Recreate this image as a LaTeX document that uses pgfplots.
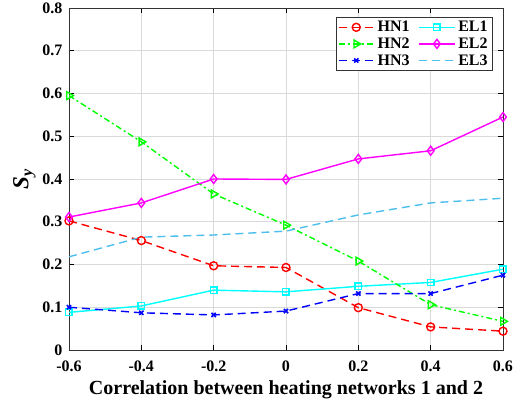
\documentclass[border=0pt]{standalone}
\usepackage{pgfplots}
\pgfplotsset{compat=1.18}
\usepackage{fontspec}
\setmainfont{Liberation Serif}
\definecolor{elthree}{rgb}{0.30,0.75,0.93}
\definecolor{hntwo}{rgb}{0,1,0}
\definecolor{elone}{rgb}{0,1,1}
\definecolor{eltwo}{rgb}{1,0,1}
\definecolor{hnone}{rgb}{1,0,0}
\definecolor{hnthree}{rgb}{0,0,1}
\begin{document}
\begin{tikzpicture}
\begin{axis}[
  scale only axis,
  width=434pt, height=342pt,
  xmin=-0.6, xmax=0.6, ymin=0, ymax=0.8,
  xtick={-0.6,-0.4,-0.2,0,0.2,0.4,0.6},
  ytick={0,0.1,0.2,0.3,0.4,0.5,0.6,0.7,0.8},
  xticklabels={-0.6,-0.4,-0.2,0,0.2,0.4,0.6},
  yticklabels={0,0.1,0.2,0.3,0.4,0.5,0.6,0.7,0.8},
  tick align=inside,
  major tick length=5pt,
  tick style={black, line width=0.6pt},
  axis line style={line width=0.9pt, black!80},
  grid=major,
  grid style={gray!30, line width=0.7pt},
  ticklabel style={font=\bfseries\fontsize{16}{16}\selectfont},
  xticklabel style={yshift=-7pt},
  yticklabel style={xshift=-3pt},
  /pgf/number format/assume math mode=true,
  xlabel={Correlation between heating networks 1 and 2},
  xlabel style={font=\bfseries\fontsize{20}{20}\selectfont, yshift=-2pt},
  ylabel={\textbf{\textit{S\textsubscript{y}}}},
  ylabel style={font=\bfseries\itshape\fontsize{23}{23}\selectfont, yshift=0pt},
  legend columns=2,
  legend style={at={(0.977,0.974)}, anchor=north east, draw=black!80, line width=0.8pt,
    font=\bfseries\fontsize{16}{16}\selectfont, inner sep=2pt, row sep=0.5pt,
    nodes={inner xsep=3pt},
    /tikz/every even column/.append style={column sep=6pt}},
  legend cell align=left,
  legend image code/.code={
    \draw[line width=1.4pt, mark repeat=2,mark phase=2] plot coordinates {(0cm,0cm) (0.62cm,0cm) (1.24cm,0cm)};
  },
]
\coordinate (bl) at (rel axis cs:0,0);
\coordinate (tr) at (rel axis cs:1,1);
\addplot[hnone, line width=1.4pt, dash pattern=on 8pt off 5pt, mark=o, mark size=4pt, mark options={solid}]
  coordinates {(-0.6,0.302) (-0.4,0.256) (-0.2,0.197) (0,0.193) (0.2,0.099) (0.4,0.054) (0.6,0.044)};
\addlegendentry{HN1}
\addplot[elone, line width=1.4pt, mark=square, mark size=3.2pt, mark options={solid}]
  coordinates {(-0.6,0.088) (-0.4,0.103) (-0.2,0.140) (0,0.136) (0.2,0.149) (0.4,0.158) (0.6,0.189)};
\addlegendentry{EL1}
\addplot[hntwo, line width=1.4pt, dash pattern=on 6pt off 3pt on 2pt off 3pt, mark=triangle, mark size=4.5pt, mark options={solid, rotate=-90}]
  coordinates {(-0.6,0.595) (-0.4,0.487) (-0.2,0.365) (0,0.292) (0.2,0.208) (0.4,0.106) (0.6,0.067)};
\addlegendentry{HN2}
\addplot[eltwo, line width=1.4pt, mark=diamond, mark size=4.5pt, mark options={solid}]
  coordinates {(-0.6,0.311) (-0.4,0.344) (-0.2,0.400) (0,0.399) (0.2,0.447) (0.4,0.466) (0.6,0.545)};
\addlegendentry{EL2}
\addplot[hnthree, line width=1.4pt, dash pattern=on 8pt off 5pt, mark=x, mark size=3pt, mark options={solid, line width=1.6pt}]
  coordinates {(-0.6,0.100) (-0.4,0.087) (-0.2,0.082) (0,0.091) (0.2,0.132) (0.4,0.132) (0.6,0.175)};
\addlegendentry{HN3}
\addplot[elthree, line width=1.4pt, dash pattern=on 8pt off 5pt]
  coordinates {(-0.6,0.218) (-0.4,0.264) (-0.2,0.269) (0,0.278) (0.2,0.316) (0.4,0.344) (0.6,0.355)};
\addlegendentry{EL3}
\end{axis}
\pgfresetboundingbox
\path ([shift={(-69pt,-52pt)}]bl) rectangle ([shift={(22pt,8pt)}]tr);
\end{tikzpicture}
\end{document}
